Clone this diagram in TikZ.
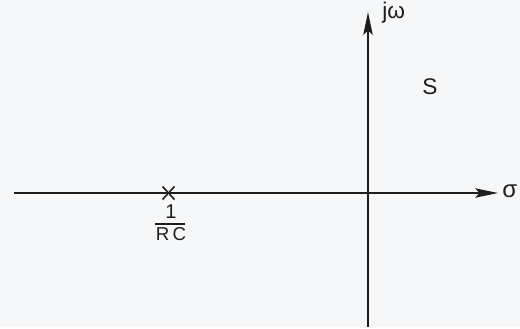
\documentclass[tikz,border=0pt]{standalone}
\usepackage{fontspec}
\setmainfont{Liberation Sans}
\usetikzlibrary{arrows.meta}

\begin{document}
\begin{tikzpicture}[x=0.75pt,y=-0.75pt]
    \definecolor{paper}{HTML}{F5F7F9}
    \definecolor{ink}{HTML}{1E1E1E}
    \tikzset{
      axis/.style={ink,line width=1.6pt,-{Stealth[length=17pt,width=7pt,inset=3pt]}},
      lbl/.style={text=ink,inner sep=0pt,font=\fontsize{13}{15}\selectfont}
    }
    \fill[paper] (0,0) rectangle (520,327);
    % axes
    \coordinate (xl) at (14,193);
    \coordinate (xr) at (498,193);
    \coordinate (yb) at (368,327);
    \coordinate (yt) at (368,12);
    \draw[axis] (xl) -- (xr);
    \draw[axis] (yb) -- (yt);
    \node[lbl,anchor=west,font=\fontsize{18}{20}\selectfont] (sig) at (502,191) {σ};
    \node[lbl,anchor=west,font=\fontsize{17}{20}\selectfont] (jw) at (382,13) {jω};
    \node[lbl,font=\fontsize{17}{20}\selectfont] (s) at (430,87) {S};
    % pole at -1/RC
    \coordinate (pole) at (168.5,193);
    \draw[ink,line width=1.2pt] ([shift={(-6,-6.5)}]pole) -- ([shift={(6,6.5)}]pole);
    \draw[ink,line width=1.2pt] ([shift={(-6,6.5)}]pole) -- ([shift={(6,-6.5)}]pole);
    \node[lbl,font=\fontsize{15}{17}\selectfont] (one) at (171,212) {1};
    \coordinate (barl) at (155,224);
    \coordinate (barr) at (185,224);
    \draw[ink,line width=1.2pt] (barl) -- (barr);
    \node[lbl,font=\fontsize{14}{16}\selectfont] (rc) at (171,234) {R\,C};
  \end{tikzpicture}
\end{document}
